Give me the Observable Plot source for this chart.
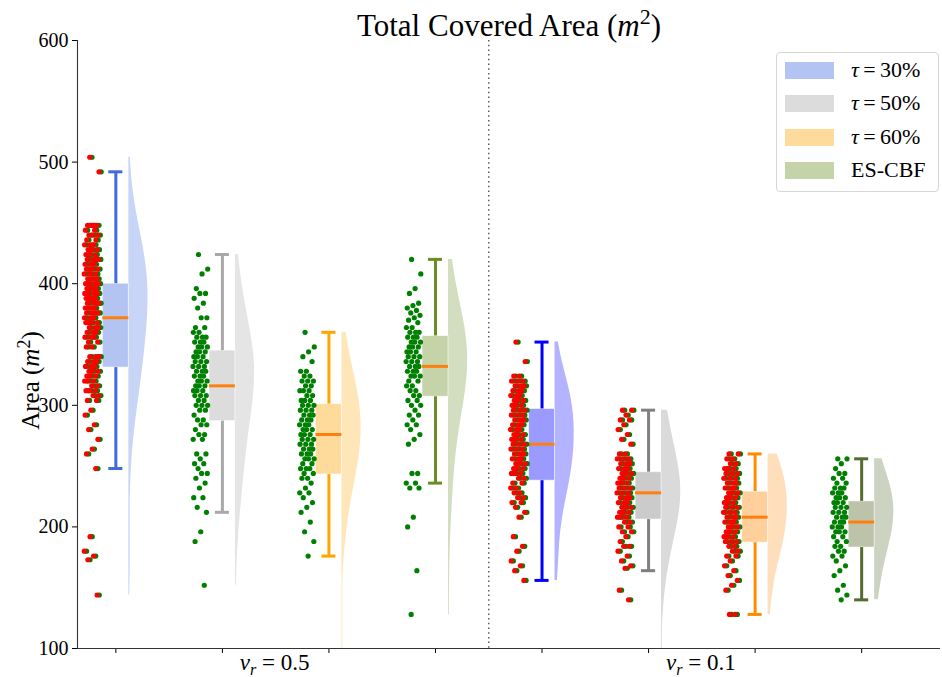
<!DOCTYPE html>
<html><head><meta charset="utf-8">
<script src="https://cdn.jsdelivr.net/npm/d3@7"></script>
<script src="https://cdn.jsdelivr.net/npm/@observablehq/plot@0.6"></script>
<style>
body{margin:0;background:#fff;}
#wrap{position:relative;width:942px;height:677px;font-family:"Liberation Serif","Times New Roman",serif;}
#wrap svg text{font-family:"Liberation Serif","Times New Roman",serif;}
.legend{position:absolute;left:776px;top:52px;width:163px;height:140px;border:1px solid #d6d6d6;border-radius:4px;background:rgba(255,255,255,0.85);box-sizing:border-box;}
.row{position:absolute;left:8px;height:17px;width:150px;}
.patch{position:absolute;left:0;top:0;width:49px;height:17px;}
.lab{position:absolute;left:66px;top:-7px;font-size:22px;line-height:30px;white-space:nowrap;color:#000;}
</style></head><body><div id="wrap"></div>
<script>
// ---- categories ----
const methods = ["τ=30%", "τ=50%", "τ=60%", "ES-CBF", "τ=30%", "τ=50%", "τ=60%", "ES-CBF"];
const speedLabels = ["v_r=0.5", "v_r=0.1"];
const groupPositions = [0, 1, 2, 3, 4, 5, 6, 7];
const speedLabelPositions = [1.5, 5.5];
const separatorAt = 3.5;
const yTicks = [100, 200, 300, 400, 500, 600];

// ---- box statistics: lower whisker, Q1, median, Q3, upper whisker ----
const whiskerLow = [248, 212, 176, 236, 156, 164, 128, 140];
const q1 = [331, 287, 243, 307, 238, 206, 187, 183];
const median = [372, 316, 276, 332, 268, 228, 208, 204];
const q3 = [400, 345, 301, 357, 297, 245, 229, 221];
const whiskerHigh = [492, 424, 360, 420, 352, 296, 260, 256];

// ---- individual runs (area, m^2) ----
const ptsV05T30 = [504, 492, 448, 448, 448, 448, 444, 444, 440, 440, 440, 436, 436, 432, 432, 432, 428, 428, 428, 424, 424, 424, 420, 420, 420, 420, 416, 416, 416, 412, 412, 412, 412, 408, 408, 408, 404, 404, 404, 404, 400, 400, 400, 400, 396, 396, 396, 396, 392, 392, 392, 392, 388, 388, 388, 388, 384, 384, 384, 384, 380, 380, 380, 380, 376, 376, 376, 376, 372, 372, 372, 368, 368, 368, 368, 364, 364, 364, 360, 360, 360, 356, 356, 356, 352, 352, 348, 348, 340, 340, 340, 336, 336, 336, 332, 332, 332, 328, 328, 328, 324, 324, 324, 320, 320, 320, 316, 316, 312, 312, 312, 308, 308, 304, 304, 296, 292, 284, 280, 272, 264, 260, 248, 192, 180, 176, 173, 144];
const ptsV05T50 = [424, 412, 408, 396, 392, 392, 388, 384, 380, 372, 372, 364, 364, 360, 360, 356, 356, 356, 352, 352, 352, 348, 348, 348, 344, 344, 344, 340, 340, 340, 336, 336, 336, 332, 332, 332, 328, 328, 328, 324, 324, 324, 320, 320, 320, 316, 316, 316, 312, 312, 312, 308, 308, 308, 304, 304, 300, 300, 300, 296, 296, 292, 288, 288, 284, 284, 280, 276, 276, 272, 272, 260, 260, 256, 252, 252, 248, 244, 244, 240, 236, 232, 224, 224, 216, 212, 196, 188, 152];
const ptsV05T60 = [360, 348, 344, 340, 336, 328, 328, 324, 324, 320, 320, 320, 316, 316, 312, 312, 312, 308, 308, 304, 304, 304, 300, 300, 300, 296, 296, 296, 292, 292, 292, 288, 288, 288, 284, 284, 284, 280, 280, 280, 276, 276, 276, 272, 272, 272, 268, 268, 268, 264, 264, 264, 260, 260, 260, 256, 256, 256, 252, 252, 248, 248, 248, 244, 244, 240, 240, 236, 232, 228, 228, 224, 220, 216, 212, 204, 196, 188, 176, 40];
const ptsV05ES = [420, 408, 396, 392, 384, 382, 380, 378, 376, 374, 372, 370, 368, 364, 364, 360, 360, 360, 356, 356, 356, 352, 352, 352, 348, 348, 348, 344, 344, 344, 340, 340, 340, 336, 336, 336, 332, 332, 332, 328, 328, 328, 324, 324, 324, 320, 320, 316, 316, 312, 312, 308, 308, 304, 304, 300, 300, 296, 292, 292, 288, 284, 284, 280, 276, 272, 268, 244, 244, 236, 236, 232, 232, 208, 200, 164, 128];
const ptsV01T30 = [352, 336, 324, 324, 320, 320, 320, 316, 316, 316, 312, 312, 312, 308, 308, 308, 304, 304, 304, 300, 300, 300, 296, 296, 296, 292, 292, 292, 288, 288, 288, 284, 284, 284, 280, 280, 280, 276, 276, 276, 272, 272, 272, 268, 268, 268, 264, 264, 264, 260, 260, 260, 256, 256, 256, 252, 252, 252, 248, 248, 248, 244, 244, 244, 240, 240, 236, 236, 232, 232, 228, 228, 224, 224, 220, 220, 216, 212, 208, 192, 184, 180, 172, 168, 164, 156];
const ptsV01T50 = [296, 296, 292, 288, 288, 284, 280, 276, 272, 268, 260, 260, 256, 256, 256, 252, 252, 252, 248, 248, 248, 244, 244, 244, 240, 240, 240, 236, 236, 236, 232, 232, 232, 228, 228, 228, 224, 224, 224, 220, 220, 220, 216, 216, 216, 212, 212, 212, 208, 208, 208, 204, 204, 200, 200, 196, 196, 192, 188, 184, 184, 180, 176, 172, 168, 166, 148, 140, 40];
const ptsV01T60 = [260, 260, 256, 256, 252, 252, 248, 248, 248, 244, 244, 244, 240, 240, 240, 236, 236, 236, 232, 232, 232, 228, 228, 228, 224, 224, 224, 220, 220, 220, 216, 216, 216, 212, 212, 212, 208, 208, 208, 204, 204, 204, 200, 200, 200, 196, 196, 196, 192, 192, 192, 188, 188, 188, 184, 184, 180, 180, 176, 176, 172, 168, 164, 160, 156, 152, 148, 128, 128];
const ptsV01ES = [256, 256, 252, 248, 244, 244, 240, 240, 236, 236, 232, 232, 232, 228, 228, 228, 224, 224, 224, 220, 220, 220, 216, 216, 216, 212, 212, 212, 208, 208, 208, 204, 204, 204, 200, 200, 200, 196, 196, 196, 192, 192, 188, 188, 184, 184, 180, 180, 176, 176, 172, 168, 164, 160, 152, 148, 144, 140];
const groupPoints = [ptsV05T30, ptsV05T50, ptsV05T60, ptsV05ES, ptsV01T30, ptsV01T50, ptsV01T60, ptsV01ES];
// groups whose runs are drawn red over green
const redOverGreen = [true, false, false, false, true, true, true, false];

// ---- colours ----
const boxFill = ["#b4c4f2", "#dcdcdc", "#ffdb9b", "#c5d3a8", "#9b9bff", "#cbcbcb", "#ffd09c", "#bcc3aa"];
const violinFill = ["#c8d5f6", "#e5e5e5", "#ffe6b9", "#d3dec0", "#b3b3ff", "#dadada", "#ffdfbb", "#ccd3c1"];
const whiskerColor = ["#4169e1", "#a9a9a9", "#ffa500", "#6b8e23", "#0000ff", "#808080", "#ff8c00", "#556b2f"];
const legendLabels = ["τ=30%", "τ=50%", "τ=60%", "ES-CBF"];

// ---- layout constants (in x units; 1 unit = one group slot) ----
const xDomain = [-0.36, 7.74];
const yDomain = [100, 600];
const boxHalf = 0.122, capHalf = 0.066, stripOffset = -0.206, stripHalf = 0.07, violinMax = 0.18;
const FONT = "'Liberation Serif', 'Times New Roman', serif";

function jitter(i) { const f = (i * 0.6180339887 + 0.37) % 1; return f * 2 - 1; }
function kde(values) {
  const n = values.length, sd = d3.deviation(values), h = 1.4 * sd * Math.pow(n, -0.2);
  const lo = d3.min(values), hi = d3.max(values);
  const ys = d3.range(0, 201).map(k => lo + (hi - lo) * k / 200);
  const dens = ys.map(y => d3.sum(values, v => Math.exp(-0.5 * ((y - v) / h) ** 2)));
  const m = d3.max(dens);
  return ys.map((y, k) => ({y, d: dens[k] / m}));
}

const marks = [];
groupPositions.forEach((p, g) => {
  const vRows = kde(groupPoints[g]).map(r => ({y: r.y, x1: p + boxHalf, x2: p + boxHalf + Math.max(r.d * violinMax, 0.008)}));
  marks.push(Plot.areaX(vRows, {y: "y", x1: "x1", x2: "x2", fill: violinFill[g], clip: true}));
});
const boxRows = groupPositions.map((p, g) => ({p, g, q1: q1[g], q3: q3[g], med: median[g], lo: whiskerLow[g], hi: whiskerHigh[g]}));
marks.push(
  Plot.rect(boxRows, {x1: d => d.p - boxHalf, x2: d => d.p + boxHalf, y1: "q1", y2: "q3", fill: d => boxFill[d.g], stroke: "#ffffff", strokeOpacity: 0.6, strokeWidth: 1}),
  Plot.ruleX(boxRows, {x: "p", y1: "q3", y2: "hi", stroke: d => whiskerColor[d.g], strokeWidth: 3}),
  Plot.ruleX(boxRows, {x: "p", y1: "lo", y2: "q1", stroke: d => whiskerColor[d.g], strokeWidth: 3}),
  Plot.ruleY(boxRows, {y: "hi", x1: d => d.p - capHalf, x2: d => d.p + capHalf, stroke: d => whiskerColor[d.g], strokeWidth: 3}),
  Plot.ruleY(boxRows, {y: "lo", x1: d => d.p - capHalf, x2: d => d.p + capHalf, stroke: d => whiskerColor[d.g], strokeWidth: 3}),
  Plot.ruleY(boxRows, {y: "med", x1: d => d.p - boxHalf, x2: d => d.p + boxHalf, stroke: "#ff7f0e", strokeWidth: 3})
);
const ptRows = [];
groupPoints.forEach((arr, g) => arr.forEach((v, i) => ptRows.push({g, v, x: groupPositions[g] + stripOffset + jitter(i) * stripHalf, red: redOverGreen[g]})));
marks.push(
  Plot.dot(ptRows, {x: "x", y: "v", r: 2.6, fill: "#008000", clip: true}),
  Plot.dot(ptRows.filter(d => d.red), {x: "x", y: "v", r: 2.6, fill: "#ff0000", dx: -2.2, clip: true})
);
marks.push(
  Plot.ruleX([separatorAt], {stroke: "#555", strokeDasharray: "1.5,3.2", strokeWidth: 1.4}),
  Plot.ruleX([xDomain[0]], {stroke: "#333", strokeWidth: 1.1}),
  Plot.ruleY([yDomain[0]], {stroke: "#333", strokeWidth: 1.1}),
  Plot.text(speedLabelPositions.map((x, k) => ({x, t: "SPEED" + k})), {x: "x", text: "t", frameAnchor: "bottom", textAnchor: "middle", lineAnchor: "middle", dx: -1, dy: 14, fontSize: 23, fill: "#000"}),
  Plot.text(["TITLE"], {text: d => d, frameAnchor: "top", textAnchor: "middle", lineAnchor: "middle", dy: -14, fontSize: 31, fill: "#000"}),
  Plot.text(["YLABEL"], {text: d => d, frameAnchor: "left", textAnchor: "middle", lineAnchor: "middle", dx: -47, dy: 36, rotate: -90, fontSize: 25, fill: "#000"})
);

const svg = Plot.plot({
  width: 942, height: 677,
  marginLeft: 77, marginRight: 2, marginTop: 40, marginBottom: 29,
  style: {fontFamily: FONT, fontSize: "20px", color: "#000", background: "#fff"},
  color: {type: "identity"},
  x: {domain: xDomain, ticks: groupPositions, tickFormat: () => "", tickSize: 5, label: null},
  y: {domain: yDomain, ticks: yTicks, tickSize: 5, label: null},
  marks
});

// typeset the math-like labels as tspans (real text)
const NS = "http://www.w3.org/2000/svg";
function setParts(el, parts) {
  el.textContent = "";
  parts.forEach(pt => {
    const ts = document.createElementNS(NS, "tspan");
    ts.textContent = pt.t;
    if (pt.italic) ts.setAttribute("font-style", "italic");
    if (pt.size) ts.setAttribute("font-size", pt.size);
    if (pt.dy) ts.setAttribute("dy", pt.dy);
    el.appendChild(ts);
  });
}
svg.querySelectorAll("text").forEach(el => {
  el.setAttribute("font-family", FONT);
  el.style.fontFamily = FONT;
  const s = el.textContent;
  if (s === "TITLE") setParts(el, [{t: "Total Covered Area ("}, {t: "m", italic: true}, {t: "2", size: "22px", dy: "-12"}, {t: ")", dy: "12"}]);
  else if (s === "YLABEL") setParts(el, [{t: "Area ("}, {t: "m", italic: true}, {t: "2", size: "18px", dy: "-9"}, {t: ")", dy: "9"}]);
  else if (s.startsWith("SPEED")) {
    const k = +s.slice(5);
    const val = speedLabels[k].split("=")[1];
    setParts(el, [{t: "v", italic: true}, {t: "r", italic: true, size: "16px", dy: "5"}, {t: " = " + val, dy: "-5"}]);
  }
});

const wrap = document.getElementById("wrap");
wrap.appendChild(svg);
const leg = document.createElement("div");
leg.className = "legend";
legendLabels.forEach((lab, k) => {
  const row = document.createElement("div");
  row.className = "row";
  row.style.top = (9 + k * 33.3) + "px";
  const patch = document.createElement("div");
  patch.className = "patch";
  patch.style.background = boxFill[k];
  const t = document.createElement("div");
  t.className = "lab";
  if (lab.startsWith("τ")) t.innerHTML = "<i>τ</i>\u2009=\u2009" + lab.split("=")[1];
  else t.textContent = lab;
  row.appendChild(patch); row.appendChild(t);
  leg.appendChild(row);
});
wrap.appendChild(leg);
</script></body></html>
